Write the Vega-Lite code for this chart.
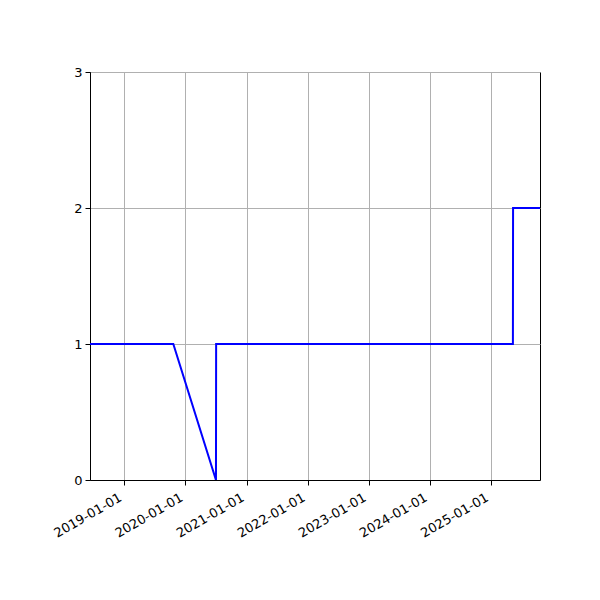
{
  "$schema": "https://vega.github.io/schema/vega-lite/v6.json",
  "autosize": "none",
  "width": 450,
  "height": 408,
  "padding": {"left": 90, "top": 72, "right": 60, "bottom": 120},
  "background": "white",
  "config": {
    "view": {"stroke": "black", "strokeWidth": 1},
    "axis": {
      "labelFont": "DejaVu Sans",
      "labelFontSize": 13,
      "labelColor": "black",
      "domainColor": "black",
      "tickColor": "black",
      "tickSize": 5,
      "labelPadding": 3,
      "labelOverlap": false,
      "gridColor": "#b0b0b0",
      "gridWidth": 1,
      "title": null
    }
  },
  "data": {
    "values": [
      {"date": "2018-06-10", "value": 1},
      {"date": "2019-10-21", "value": 1},
      {"date": "2020-07-02", "value": 0},
      {"date": "2020-07-03", "value": 1},
      {"date": "2025-05-12", "value": 1},
      {"date": "2025-05-13", "value": 2},
      {"date": "2025-10-21", "value": 2}
    ]
  },
  "mark": {"type": "line", "color": "#0000ff", "strokeWidth": 2, "clip": true},
  "encoding": {
    "x": {
      "field": "date",
      "type": "temporal",
      "scale": {
        "type": "utc",
        "domain": [
          {"year": 2018, "month": 6, "date": 10, "utc": true},
          {"year": 2025, "month": 10, "date": 21, "utc": true}
        ]
      },
      "axis": {
        "grid": true,
        "format": "%Y-%m-%d",
        "labelAngle": -30,
        "labelAlign": "right",
        "labelBaseline": "top",
        "labelOffset": -7,
        "labelPadding": 6,
        "values": [
          {"year": 2019, "month": 1, "date": 1, "utc": true},
          {"year": 2020, "month": 1, "date": 1, "utc": true},
          {"year": 2021, "month": 1, "date": 1, "utc": true},
          {"year": 2022, "month": 1, "date": 1, "utc": true},
          {"year": 2023, "month": 1, "date": 1, "utc": true},
          {"year": 2024, "month": 1, "date": 1, "utc": true},
          {"year": 2025, "month": 1, "date": 1, "utc": true}
        ]
      }
    },
    "y": {
      "field": "value",
      "type": "quantitative",
      "scale": {"domain": [0, 3], "nice": false},
      "axis": {"grid": true, "values": [0, 1, 2, 3]}
    }
  }
}
